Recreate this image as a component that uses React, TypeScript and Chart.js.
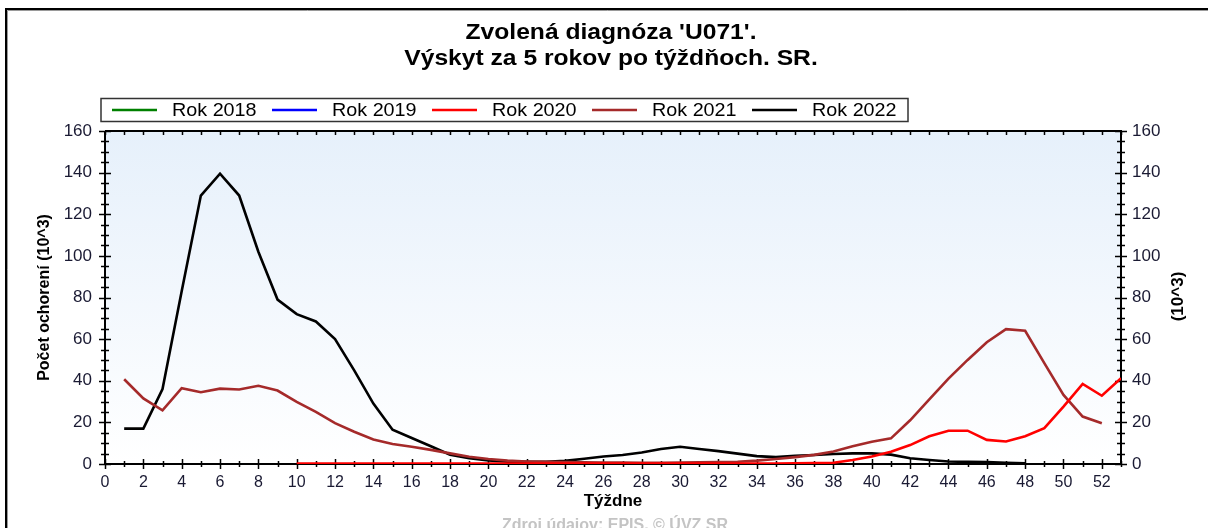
import { useEffect, useRef } from "react";
import { Chart, registerables } from "chart.js";

Chart.register(...registerables);

const TITLE_LINES = ["Zvolená diagnóza 'U071'.", "Výskyt za 5 rokov po týždňoch. SR."];
const Y_TITLE = "Počet ochorení (10^3)";
const Y2_TITLE = "(10^3)";
const X_TITLE = "Týždne";
const SOURCE = "Zdroj údajov: EPIS, © ÚVZ SR";

const WEEKS = [
  1, 2, 3, 4, 5, 6, 7, 8, 9, 10, 11, 12, 13, 14, 15, 16, 17, 18, 19, 20, 21, 22, 23, 24, 25, 26,
  27, 28, 29, 30, 31, 32, 33, 34, 35, 36, 37, 38, 39, 40, 41, 42, 43, 44, 45, 46, 47, 48, 49, 50,
  51, 52, 53,
];
const X_TICKS = [0, 2, 4, 6, 8, 10, 12, 14, 16, 18, 20, 22, 24, 26, 28, 30, 32, 34, 36, 38, 40, 42, 44, 46, 48, 50, 52];
const Y_TICKS = [0, 20, 40, 60, 80, 100, 120, 140, 160];

const SERIES_LABELS = ["Rok 2018", "Rok 2019", "Rok 2020", "Rok 2021", "Rok 2022"];
const SERIES_COLORS = ["#008000", "#0000ff", "#ff0000", "#a52a2a", "#000000"];

// values in thousands, index = week - 1; null = no value
const ROK_2018: (number | null)[] = [];
const ROK_2019: (number | null)[] = [];
const ROK_2020: (number | null)[] = [
  null, null, null, null, null, null, null, null, null,
  0.2, 0.2, 0.2, 0.2, 0.2, 0.2, 0.2, 0.2, 0.2, 0.2, 0.2, 0.2, 0.2, 0.2, 0.2, 0.2, 0.2, 0.2, 0.2,
  0.2, 0.2, 0.2, 0.2, 0.2, 0.2, 0.2, 0.3, 0.4, 0.6, 1.9, 3.6, 5.9, 9.1, 13.3, 16.0, 16.0, 11.6,
  10.8, 13.3, 17.2, 27.6, 38.5, 32.8, 41.2,
];
const ROK_2021: (number | null)[] = [
  40.7, 31.5, 25.8, 36.4, 34.5, 36.2, 35.8, 37.6, 35.3, 29.8, 25.0, 19.6, 15.5, 11.8, 9.6, 8.3,
  6.8, 5.1, 3.5, 2.4, 1.6, 1.2, 1.0, 0.9, 0.8, 0.7, 0.7, 0.6, 0.6, 0.7, 0.8, 0.9, 1.1, 1.6, 2.4,
  3.3, 4.4, 6.0, 8.5, 10.7, 12.3, 21.0, 31.0, 41.0, 50.0, 58.5, 64.8, 64.0, 48.5, 33.2, 22.8, 19.6,
];
const ROK_2022: (number | null)[] = [
  17.0, 17.0, 36.0, 83.0, 129.0, 139.5, 129.0, 102.0, 79.0, 72.0, 68.5, 60.0, 45.0, 29.0, 16.5,
  12.5, 8.5, 4.5, 2.8, 1.7, 1.1, 1.0, 1.1, 1.5, 2.5, 3.6, 4.3, 5.5, 7.2, 8.3, 7.2, 6.2, 5.0, 3.8,
  3.3, 4.0, 4.3, 4.8, 5.1, 5.1, 4.5, 2.8, 1.9, 1.2, 1.0, 0.9, 0.6, 0.3,
];
const SERIES_VALUES = [ROK_2018, ROK_2019, ROK_2020, ROK_2021, ROK_2022];

const FONT = "'Liberation Sans', Arial, Helvetica, sans-serif";

function toPoints(values: (number | null)[]) {
  const pts: { x: number; y: number }[] = [];
  WEEKS.forEach((w, i) => {
    const v = values[i];
    if (v !== null && v !== undefined) pts.push({ x: w, y: v });
  });
  return pts;
}

function stretchedText(ctx: any, text: string, x: number, y: number, sx: number) {
  ctx.save();
  ctx.translate(x, y);
  ctx.scale(sx, 1);
  ctx.fillText(text, 0, 0);
  ctx.restore();
}

const decorPlugin = {
  id: "decor",
  beforeDraw(chart: any) {
    const { ctx, chartArea: a } = chart;
    ctx.save();
    ctx.fillStyle = "#ffffff";
    ctx.fillRect(0, 0, chart.width, chart.height);
    // outer frame
    ctx.strokeStyle = "#000";
    ctx.lineWidth = 2;
    ctx.beginPath();
    ctx.moveTo(6, chart.height);
    ctx.lineTo(6, 9);
    ctx.lineTo(chart.width, 9);
    ctx.stroke();
    ctx.strokeStyle = "#9a9a9a";
    ctx.lineWidth = 1;
    ctx.beginPath();
    ctx.moveTo(7.5, chart.height);
    ctx.lineTo(7.5, 10.5);
    ctx.lineTo(chart.width, 10.5);
    ctx.stroke();
    // plot background
    const g = ctx.createLinearGradient(0, a.top, 0, a.bottom);
    g.addColorStop(0, "#e6f0fb");
    g.addColorStop(1, "#ffffff");
    ctx.fillStyle = g;
    ctx.fillRect(a.left, a.top, a.right - a.left, a.bottom - a.top);
    ctx.restore();
  },
  beforeDatasetsDraw(chart: any) {
    const { ctx, chartArea: a, scales } = chart;
    const xs = scales.x;
    const yl = scales.y;
    const yr = scales.y2;
    ctx.save();
    ctx.strokeStyle = "#000";
    ctx.lineWidth = 2;
    ctx.beginPath();
    ctx.moveTo(a.left, a.top);
    ctx.lineTo(a.left, a.bottom);
    ctx.lineTo(a.right, a.bottom);
    ctx.lineTo(a.right, a.top);
    ctx.lineTo(a.left, a.top);
    ctx.stroke();
    ctx.lineWidth = 1.5;
    ctx.beginPath();
    for (let v = yl.min; v <= yl.max; v += 5) {
      const major = v % 20 === 0;
      const len = major ? 6 : 4;
      const py = Math.round(yl.getPixelForValue(v)) + 0.5;
      ctx.moveTo(a.left - len, py);
      ctx.lineTo(a.left + len, py);
      const py2 = Math.round(yr.getPixelForValue(v)) + 0.5;
      ctx.moveTo(a.right - len, py2);
      ctx.lineTo(a.right + len, py2);
    }
    for (let w = xs.min; w <= xs.max; w += 1) {
      const major = w % 2 === 0;
      const len = major ? 5 : 3;
      const px = Math.round(xs.getPixelForValue(w)) + 0.5;
      ctx.moveTo(px, a.bottom - len);
      ctx.lineTo(px, a.bottom + len);
      ctx.moveTo(px, a.top);
      ctx.lineTo(px, a.top + 4);
    }
    ctx.stroke();
    ctx.restore();
  },
  afterDraw(chart: any) {
    const { ctx, chartArea: a } = chart;
    const cx = (a.left + a.right) / 2;
    ctx.save();
    ctx.fillStyle = "#000";
    ctx.textAlign = "center";
    ctx.textBaseline = "middle";
    ctx.font = `bold 22px ${FONT}`;
    TITLE_LINES.forEach((t, i) => stretchedText(ctx, t, cx - 2, 33 + i * 26, 1.12));

    // legend
    ctx.strokeStyle = "#333";
    ctx.lineWidth = 1.5;
    ctx.strokeRect(101, 98.5, 807, 23);
    ctx.font = `19px ${FONT}`;
    ctx.textAlign = "left";
    chart.data.datasets.forEach((ds: any, i: number) => {
      const x0 = 112 + i * 160;
      const y = 110;
      ctx.strokeStyle = ds.borderColor;
      ctx.lineWidth = 2.6;
      ctx.beginPath();
      ctx.moveTo(x0, y);
      ctx.lineTo(x0 + 45, y);
      ctx.stroke();
      ctx.fillStyle = "#000";
      stretchedText(ctx, ds.label, x0 + 60, y + 1, 1.04);
    });

    // axis titles
    ctx.fillStyle = "#000";
    ctx.textAlign = "center";
    ctx.font = `bold 16px ${FONT}`;
    ctx.save();
    ctx.translate(45, (a.top + a.bottom) / 2);
    ctx.rotate(-Math.PI / 2);
    ctx.fillText(Y_TITLE, 0, 0);
    ctx.restore();
    ctx.save();
    ctx.translate(1178, (a.top + a.bottom) / 2 - 1);
    ctx.rotate(-Math.PI / 2);
    ctx.font = `bold 17px ${FONT}`;
    ctx.fillText(Y2_TITLE, 0, 0);
    ctx.restore();
    ctx.font = `bold 17px ${FONT}`;
    ctx.fillText(X_TITLE, cx, 501);

    // source
    ctx.fillStyle = "#c4c4c4";
    ctx.font = `bold 16px ${FONT}`;
    ctx.textBaseline = "top";
    ctx.fillText(SOURCE, cx + 2, 518);
    ctx.restore();
  },
};

export default function App() {
  const ref = useRef<HTMLCanvasElement | null>(null);
  useEffect(() => {
    if (!ref.current) return;
    const tickFont = { family: FONT, size: 16 };
    const chart = new Chart(ref.current, {
      type: "line",
      data: {
        datasets: SERIES_LABELS.map((label, i) => ({
          label,
          data: toPoints(SERIES_VALUES[i]),
          borderColor: SERIES_COLORS[i],
          backgroundColor: SERIES_COLORS[i],
          borderWidth: 2.6,
          pointRadius: 0,
          tension: 0,
          fill: false,
        })),
      },
      options: {
        responsive: false,
        animation: false,
        layout: { padding: { top: 131, left: 0, right: 0, bottom: 0 } },
        plugins: {
          legend: { display: false },
          title: { display: false },
          tooltip: { enabled: false },
        },
        scales: {
          x: {
            type: "linear",
            position: "bottom",
            min: 0,
            max: 53,
            grid: { display: false, drawTicks: false },
            border: { display: false },
            afterBuildTicks: (s: any) => {
              s.ticks = X_TICKS.map((v) => ({ value: v }));
            },
            ticks: {
              autoSkip: false,
              maxRotation: 0,
              padding: 9,
              color: "#1a1a33",
              font: tickFont,
            },
            afterFit: (s: any) => {
              s.height = 64;
            },
          },
          y: {
            type: "linear",
            position: "left",
            min: 0,
            max: 160,
            grid: { display: false, drawTicks: false },
            border: { display: false },
            afterBuildTicks: (s: any) => {
              s.ticks = Y_TICKS.map((v) => ({ value: v }));
            },
            ticks: { padding: 13, color: "#1a1a33", font: { family: FONT, size: 17 } },
            afterFit: (s: any) => {
              s.width = 105;
            },
          },
          y2: {
            type: "linear",
            position: "right",
            min: 0,
            max: 160,
            grid: { display: false, drawTicks: false },
            border: { display: false },
            afterBuildTicks: (s: any) => {
              s.ticks = Y_TICKS.map((v) => ({ value: v }));
            },
            ticks: { padding: 11, color: "#1a1a33", font: { family: FONT, size: 17 } },
            afterFit: (s: any) => {
              s.width = 87;
            },
          },
        },
      },
      plugins: [decorPlugin],
    } as any);
    return () => chart.destroy();
  }, []);
  return (
    <div style={{ position: "fixed", left: 0, top: 0, width: 1208, height: 528, background: "#fff" }}>
      <canvas ref={ref} width={1208} height={528} />
    </div>
  );
}
